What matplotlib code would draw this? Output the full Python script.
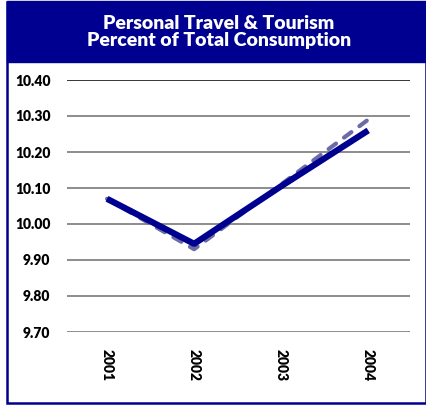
import matplotlib
matplotlib.use("Agg")
import matplotlib.pyplot as plt
from matplotlib.patches import Rectangle

# Personal travel & tourism share of total consumption (%)
years = ["2001", "2002", "2003", "2004"]
actual = [10.07, 9.945, 10.105, 10.26]
forecast = [10.07, 9.93, 10.11, 10.29]
y_ticks = [9.70, 9.80, 9.90, 10.00, 10.10, 10.20, 10.30, 10.40]

NAVY = "#000090"
W, H = 427, 405

fig = plt.figure(figsize=(W / 100, H / 100), dpi=100)
fig.patch.set_facecolor("white")

# outer frame and title band
fig.patches.append(Rectangle((7 / W, 2 / H), 419 / W, 401 / H, transform=fig.transFigure,
                             fill=False, edgecolor=NAVY, linewidth=1.8, zorder=0))
fig.patches.append(Rectangle((7 / W, 1 - 62 / H), 1 - 7 / W, 61 / H, transform=fig.transFigure,
                             facecolor=NAVY, edgecolor=NAVY, zorder=1))
fig.text(219 / W, 1 - 32 / H, "Personal Travel & Tourism\nPercent of Total Consumption",
         ha="center", va="center", color="white", fontsize=14, fontweight="heavy",
         family="Lato", linespacing=1.0)

ax = fig.add_axes([67 / W, 1 - 332 / H, (410 - 67) / W, (332 - 80) / H])
x = list(range(len(years)))
ax.plot(x, forecast, color="#6b6ba6", linewidth=3.0, linestyle=(0, (2.2, 2.4)),
        solid_capstyle="round", dash_capstyle="round", zorder=3)
ax.plot(x, actual, color=NAVY, linewidth=4.5, solid_capstyle="butt", zorder=4)

ax.set_xlim(-0.46, 3.48)
ax.set_ylim(9.70, 10.40)
ax.set_yticks(y_ticks)
ax.set_yticklabels([f"{v:.2f}" for v in y_ticks])
for v in y_ticks:
    ax.axhline(v, color="black" if v == 10.40 else "#6e6e6e", linewidth=1.1, zorder=1)

ax.set_xticks(x)
ax.set_xticklabels(years, rotation=270)
for s in ax.spines.values():
    s.set_visible(False)
ax.tick_params(axis="y", length=0, pad=12, labelsize=10)
ax.tick_params(axis="x", length=0, pad=12, labelsize=10)
for lbl in ax.get_yticklabels() + ax.get_xticklabels():
    lbl.set_fontweight("heavy")
    lbl.set_family("Lato")

fig.savefig("out.png", dpi=100)
